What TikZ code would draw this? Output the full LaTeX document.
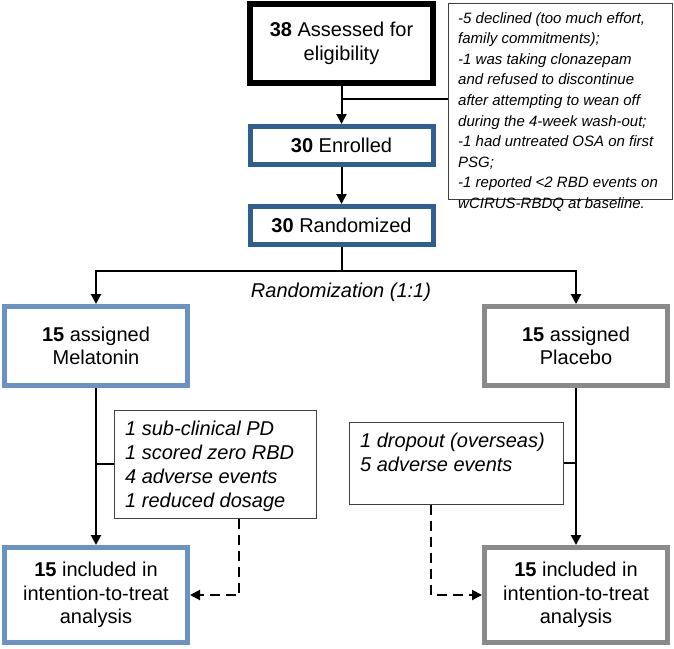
\documentclass[tikz,border=0pt]{standalone}
\usepackage{fontspec}
\setmainfont{Liberation Sans}
\usetikzlibrary{arrows.meta}
\definecolor{dkblue}{HTML}{2F5F91}
\definecolor{ltblue}{HTML}{6A93C4}
\definecolor{boxgray}{HTML}{8A8A8A}
\definecolor{notegray}{HTML}{404040}
\newcommand{\nlines}[1]{\begin{tabular}[t]{@{}l@{}}#1\end{tabular}}
\begin{document}
\begin{tikzpicture}[x=1pt,y=-1pt,
  mainbox/.style={draw, line width=5pt, fill=white, minimum width=183pt, inner sep=0pt, align=center, font=\fontsize{20}{23.5}\selectfont},
  notebox/.style={draw=notegray, line width=1pt, inner sep=0pt},
  notetext/.style={anchor=base west, inner sep=0pt, font=\fontsize{20}{24}\selectfont\itshape},
  conn/.style={line width=2pt},
  arr/.style={conn, -{Triangle[length=10pt,width=10pt]}},
  darr/.style={arr, dash pattern=on 10pt off 6pt},
]
\fill[white] (0,0) rectangle (674,648);
\useasboundingbox (0,0) rectangle (674,648);

\node[mainbox, draw=black, line width=6pt, minimum height=79pt] (assess) at (341.5,43.5) {\textbf{38} Assessed for\\eligibility};
\node[mainbox, draw=dkblue, minimum height=38pt] (enrol) at (341.5,145.5) {\textbf{30} Enrolled};
\node[mainbox, draw=dkblue, minimum height=38pt] (rand) at (341.5,225.5) {\textbf{30} Randomized};
\node[mainbox, draw=ltblue, minimum height=79pt] (mel) at (96,346) {\textbf{15} assigned\\Melatonin};
\node[mainbox, draw=boxgray, minimum height=79pt] (pla) at (576,346) {\textbf{15} assigned\\Placebo};
\node[mainbox, draw=ltblue, minimum height=95pt] (mitt) at (96,595) {\textbf{15} included in\\intention-to-treat\\analysis};
\node[mainbox, draw=boxgray, minimum height=95pt] (pitt) at (576,595) {\textbf{15} included in\\intention-to-treat\\analysis};

\node[notebox, minimum width=224pt, minimum height=196pt] (excl) at (560,101) {};
\node[notetext, font=\fontsize{15}{20.6}\selectfont\itshape] (excltext) at (458,23) {\nlines{-5 declined (too much effort,\\family commitments);\\-1 was taking clonazepam\\and refused to discontinue\\after attempting to wean off\\during the 4-week wash-out;\\-1 had untreated OSA on first\\PSG;\\-1 reported <2 RBD events on\\wCIRUS-RBDQ at baseline.}};

\node[notebox, minimum width=202pt, minimum height=108pt] (mnote) at (215,464) {};
\node[notetext] (mnotetext) at (125,435) {\nlines{1 sub-clinical PD\\1 scored zero RBD\\4 adverse events\\1 reduced dosage}};

\node[notebox, minimum width=214pt, minimum height=82pt] (pnote) at (456,463) {};
\node[notetext] (pnotetext) at (360,447) {\nlines{1 dropout (overseas)\\5 adverse events}};

\node[anchor=base, inner sep=0pt, font=\fontsize{20}{24}\selectfont\itshape] (rlabel) at (341,297) {Randomization (1:1)};

\draw[arr] (assess) -- (enrol);
\coordinate (j1) at (341.5,99);
\draw[conn] (j1) -- (j1 -| excl.west);
\draw[arr] (enrol) -- (rand);
\coordinate (split) at (341.5,271);
\draw[conn] (rand.south) -- (split);
\draw[arr] (split) -| (mel.north);
\draw[arr] (split) -| (pla.north);
\draw[arr] (mel) -- (mitt);
\draw[conn] (mnote.west) -- (mnote.west -| mel.south);
\draw[arr] (pla) -- (pitt);
\draw[conn] (pnote.east) -- (pnote.east -| pla.south);
\coordinate (mdash) at (239,595);
\draw[darr] (mnote.south -| mdash) |- (mitt.east);
\coordinate (pdash) at (431,595);
\draw[darr] (pnote.south -| pdash) |- (pitt.west);
\end{tikzpicture}
\end{document}
